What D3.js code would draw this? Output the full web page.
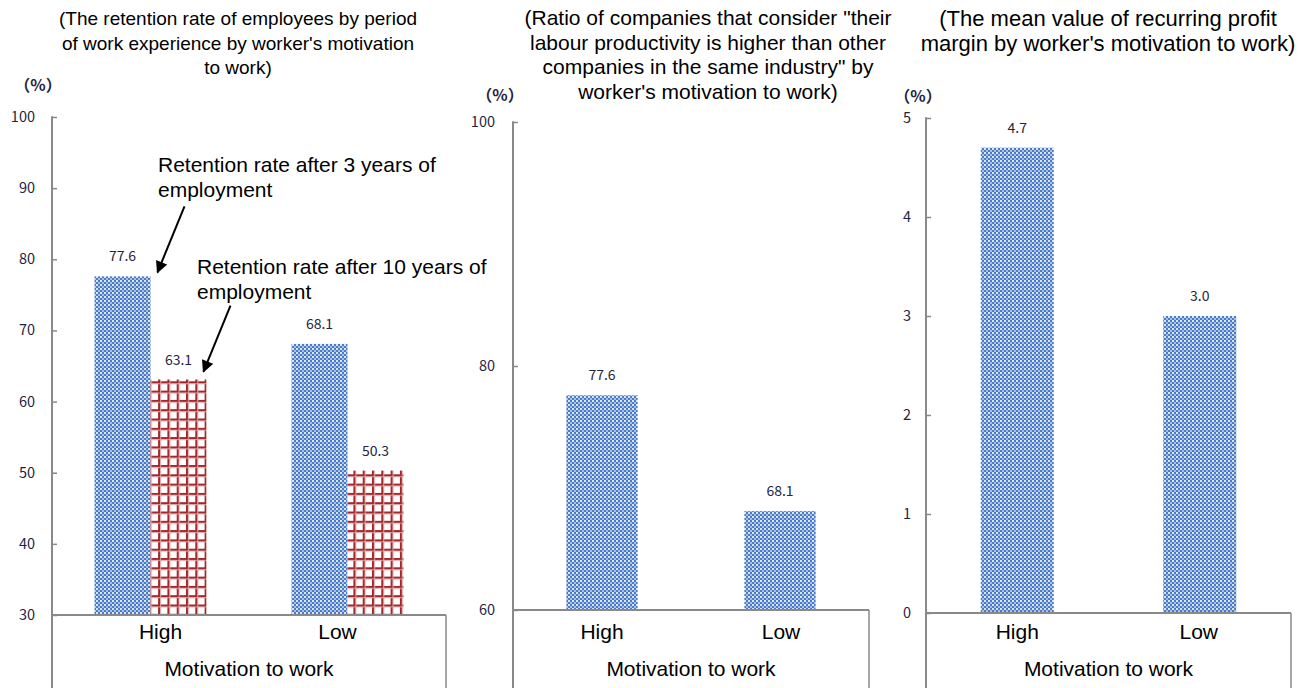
<!DOCTYPE html>
<html>
<head>
<meta charset="utf-8">
<script src="https://cdn.jsdelivr.net/npm/d3@7"></script>
<style>
  html, body { margin: 0; padding: 0; background: #fff; }
  svg { display: block; }
  .title, .cat, .axis-title, .note { font-family: Arial, "Liberation Sans", sans-serif; fill: #000; }
  .tick-label, .value, .unit { font-family: "Noto Sans CJK JP", "DejaVu Sans", sans-serif; fill: #1f2540; }
</style>
</head>
<body>
<svg id="chart" width="1309" height="688"></svg>
<script>
// ---- data ----
const categories = ["High", "Low"];
const retention3yr = [77.6, 68.1];
const retention10yr = [63.1, 50.3];
const productivityRatio = [77.6, 68.1];
const profitMargin = [4.7, 3.0];

const ticksRetention = [30, 40, 50, 60, 70, 80, 90, 100];
const ticksProductivity = [60, 80, 100];
const ticksProfit = [0, 1, 2, 3, 4, 5];

const titleRetention = ["(The retention rate of employees by period", "of work experience by worker's motivation", "to work)"];
const titleProductivity = ["(Ratio of companies that consider \"their", "labour productivity is higher than other", "companies in the same industry\" by", "worker's motivation to work)"];
const titleProfit = ["(The mean value of recurring profit", "margin by worker's motivation to work)"];

const axisTitle = "Motivation to work";
const unitLabel = "（%）";
const note3yr = ["Retention rate after 3 years of", "employment"];
const note10yr = ["Retention rate after 10 years of", "employment"];

// ---- drawing ----
const svg = d3.select("#chart");
const H = 688;
const axisColor = "#898989";
const catY = 639, axisTitleY = 676;

const defs = svg.append("defs");
// dotted blue fill
const blue = defs.append("pattern").attr("id", "dotBlue").attr("patternUnits", "userSpaceOnUse")
  .attr("width", 4).attr("height", 4);
blue.append("rect").attr("width", 4).attr("height", 4).attr("fill", "#4A7BC7");
blue.append("rect").attr("x", 0).attr("y", 0).attr("width", 2).attr("height", 2).attr("fill", "#DCE5F5");
blue.append("rect").attr("x", 2).attr("y", 2).attr("width", 2).attr("height", 2).attr("fill", "#A8BFE6");
// red grid fill
const red = defs.append("pattern").attr("id", "gridRed").attr("patternUnits", "userSpaceOnUse")
  .attr("width", 9.3).attr("height", 9.3);
red.append("rect").attr("width", 9.3).attr("height", 9.3).attr("fill", "#fff");
red.append("rect").attr("x", 0).attr("y", 0).attr("width", 2).attr("height", 9.3).attr("fill", "#A3282C");
red.append("rect").attr("x", 0).attr("y", 0).attr("width", 9.3).attr("height", 2).attr("fill", "#A3282C");
red.append("rect").attr("x", 2).attr("y", 0).attr("width", 1).attr("height", 9.3).attr("fill", "#D9A5A6");
red.append("rect").attr("x", 0).attr("y", 2).attr("width", 9.3).attr("height", 1).attr("fill", "#D9A5A6");

function panel(cfg) {
  const g = svg.append("g");
  const y = d3.scaleLinear().domain(cfg.domain).range([cfg.bottom, cfg.top]);
  const x = d3.scaleBand().domain(categories).range([cfg.left, cfg.right]);
  const inner = d3.scaleBand().domain(d3.range(cfg.series.length)).range([0, x.bandwidth()])
    .paddingInner(0).paddingOuter(cfg.outerPad);

  // title
  g.append("text").attr("class", "title").attr("text-anchor", "middle")
    .attr("font-size", cfg.titleSize)
    .selectAll("tspan").data(cfg.title).join("tspan")
    .attr("x", cfg.titleX).attr("y", (d, i) => cfg.titleY + i * 24.7).text(d => d);

  // unit
  g.append("text").attr("class", "unit").attr("font-size", 16).attr("font-weight", 700)
    .attr("x", cfg.unitX).attr("y", cfg.unitY).attr("text-anchor", "middle").text(unitLabel);

  // bars
  cfg.series.forEach((s, si) => {
    g.append("g").selectAll("rect").data(s.values).join("rect")
      .attr("x", (d, i) => x(categories[i]) + inner(si))
      .attr("y", d => y(d))
      .attr("width", inner.bandwidth())
      .attr("height", d => y(cfg.domain[0]) - y(d))
      .attr("fill", `url(#${s.fill})`);
    g.append("g").selectAll("text").data(s.values).join("text")
      .attr("class", "value").attr("font-size", 14).attr("text-anchor", "middle")
      .attr("x", (d, i) => x(categories[i]) + inner(si) + inner.bandwidth() / 2)
      .attr("y", d => y(d) - 15)
      .text(d => d.toFixed(1));
  });

  // y axis
  const axis = d3.axisRight(y).tickValues(cfg.ticks).tickSize(5).tickFormat("");
  const ag = g.append("g").attr("transform", `translate(${cfg.left},0)`).call(axis);
  ag.select(".domain").remove();
  ag.selectAll(".tick line").attr("stroke", axisColor).attr("stroke-width", 1.5);
  g.append("line").attr("x1", cfg.left).attr("x2", cfg.left).attr("y1", cfg.top - 0.75).attr("y2", H)
    .attr("stroke", axisColor).attr("stroke-width", 2);
  g.selectAll(".tick-label").data(cfg.ticks).join("text")
    .attr("class", "tick-label").attr("font-size", 14.5).attr("text-anchor", "end")
    .attr("x", cfg.left - cfg.labelGap).attr("y", d => y(d) + 5).text(d => d);

  // category box below baseline
  g.append("line").attr("x1", cfg.left).attr("x2", cfg.right).attr("y1", y(cfg.domain[0])).attr("y2", y(cfg.domain[0]))
    .attr("stroke", axisColor).attr("stroke-width", 2);
  g.append("line").attr("x1", cfg.right).attr("x2", cfg.right).attr("y1", y(cfg.domain[0])).attr("y2", H)
    .attr("stroke", axisColor).attr("stroke-width", 1.5);
  g.selectAll(".cat").data(categories).join("text")
    .attr("class", "cat").attr("font-size", 21).attr("text-anchor", "middle")
    .attr("x", (d, i) => x(d) + x.bandwidth() / 2 + cfg.catShift[i]).attr("y", catY).text(d => d);
  g.append("text").attr("class", "axis-title").attr("font-size", 21).attr("text-anchor", "middle")
    .attr("x", (cfg.left + cfg.right) / 2).attr("y", axisTitleY).text(axisTitle);

  return { g, x, y, inner };
}

const p1 = panel({
  domain: [30, 100], ticks: ticksRetention, top: 117, bottom: 615, left: 52, right: 446,
  outerPad: 0.76, title: titleRetention, titleX: 238, titleSize: 19, titleY: 25,
  unitX: 38, unitY: 91, labelGap: 17, catShift: [10, -10],
  series: [{ values: retention3yr, fill: "dotBlue" }, { values: retention10yr, fill: "gridRed" }]
});
panel({
  domain: [60, 100], ticks: ticksProductivity, top: 122, bottom: 610, left: 513, right: 869,
  outerPad: 0.75, title: titleProductivity, titleX: 708, titleSize: 21, titleY: 25,
  unitX: 500, unitY: 101, labelGap: 18, catShift: [0, 1],
  series: [{ values: productivityRatio, fill: "dotBlue" }]
});
panel({
  domain: [0, 5], ticks: ticksProfit, top: 118, bottom: 613, left: 926, right: 1291,
  outerPad: 0.75, title: titleProfit, titleX: 1108, titleSize: 22, titleY: 26,
  unitX: 918, unitY: 102, labelGap: 15, catShift: [0, -1],
  series: [{ values: profitMargin, fill: "dotBlue" }]
});

// annotation arrows pointing at the "High" bars of the retention chart
defs.append("marker").attr("id", "head").attr("viewBox", "0 0 10 10").attr("refX", 9).attr("refY", 5)
  .attr("markerWidth", 13).attr("markerHeight", 12).attr("markerUnits", "userSpaceOnUse").attr("orient", "auto")
  .append("path").attr("d", "M0,0L10,5L0,10z").attr("fill", "#000");

function note(lines, textX, textY, tipX, tipY) {
  const g = p1.g.append("g");
  g.append("text").attr("class", "note").attr("font-size", 21)
    .selectAll("tspan").data(lines).join("tspan")
    .attr("x", textX).attr("y", (d, i) => textY + i * 24.5).text(d => d);
  g.append("line").attr("x1", tipX + 27).attr("y1", tipY - 66).attr("x2", tipX).attr("y2", tipY)
    .attr("stroke", "#000").attr("stroke-width", 2).attr("marker-end", "url(#head)");
}
const hi = categories[0];
const blueRight = p1.x(hi) + p1.inner(0) + p1.inner.bandwidth();
const redRight = p1.x(hi) + p1.inner(1) + p1.inner.bandwidth();
note(note3yr, 158, 172, blueRight + 7, p1.y(retention3yr[0]) - 4);
note(note10yr, 197, 274, redRight - 3, p1.y(retention10yr[0]) - 8);
</script>
</body>
</html>
